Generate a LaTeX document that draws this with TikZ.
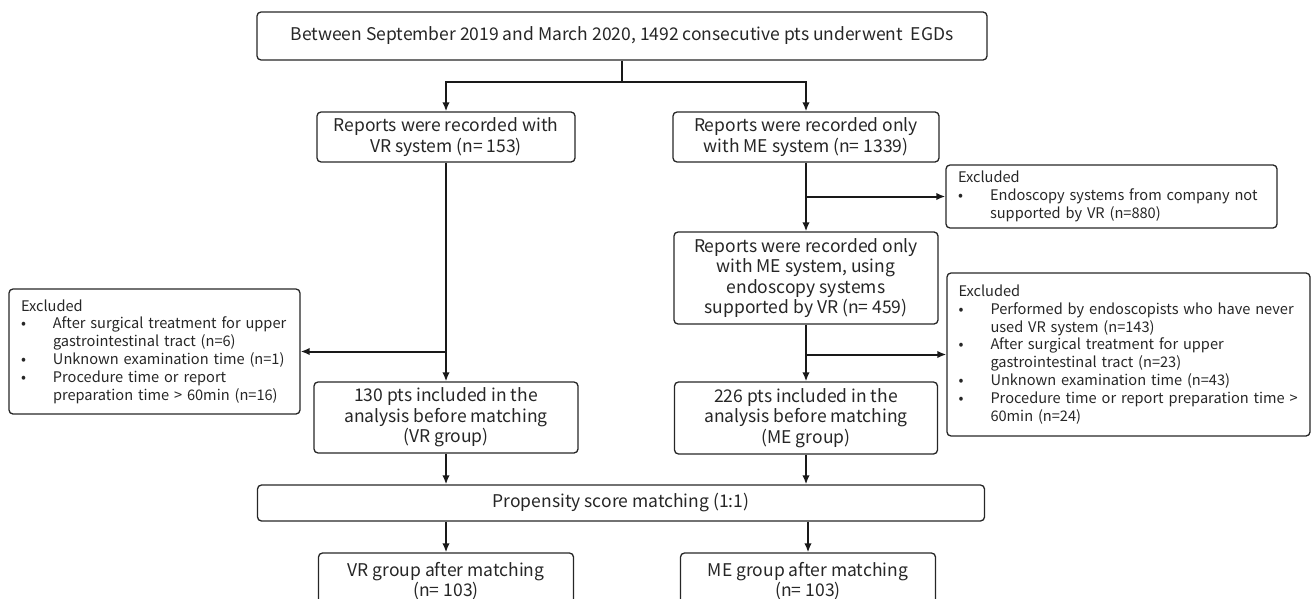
\documentclass[tikz,border=0pt]{standalone}
\usepackage{fontspec}
\setmainfont{Noto Sans CJK JP}
\usetikzlibrary{arrows.meta}
\newcommand\mainsz{\fontsize{17.5}{20.5}\selectfont}
\newcommand\topsz{\fontsize{17.5}{20.5}\selectfont}
\newcommand\exsz{\fontsize{14.6}{17.8}\selectfont}
\newcommand\bitem[1]{\makebox[32pt][l]{•}\mbox{#1}}
\newcommand\cnt[1]{\hspace*{32pt}\mbox{#1}}
\begin{document}
\begin{tikzpicture}[x=1pt,y=-1pt,
  box/.style={draw=black!85, line width=1.3pt, rounded corners=4pt, inner sep=0pt,
              align=center, font=\mainsz, text=black!85},
  exbox/.style={box, align=left, inner xsep=12pt, inner ysep=0pt, font=\exsz},
  conn/.style={line width=2pt, draw=black!90},
  arr/.style={conn, -{Latex[length=9pt,width=7.5pt]}}]
\useasboundingbox (0,0) rectangle (1311,599);
\clip (0,0) rectangle (1311,599);

\node[box, font=\topsz, minimum width=730pt, minimum height=48pt] (top) at (622,36)
  {Between September 2019 and March 2020, 1492 consecutive pts underwent\ \ EGDs};
\node[box, minimum width=258pt, minimum height=50pt] (vr) at (446,137)
  {Reports were recorded with\\VR system (n= 153)};
\node[box, minimum width=266pt, minimum height=50pt] (me) at (806,137)
  {Reports were recorded only\\with ME system (n= 1339)};
\node[exbox, text width=307pt, minimum height=63pt] (ex1) at (1111.5,196.5)
  {Excluded\\
   \bitem{Endoscopy systems from company not}\\
   \cnt{supported by VR (n=880)}};
\node[box, minimum width=264pt, minimum height=92pt] (me2) at (806,278)
  {Reports were recorded only\\with ME system, using\\endoscopy systems\\supported by VR (n= 459)};
\node[exbox, text width=267pt, minimum height=125pt] (exL) at (154.5,351.5)
  {Excluded\\
   \bitem{After surgical treatment for upper}\\
   \cnt{gastrointestinal tract (n=6)}\\
   \bitem{Unknown examination time (n=1)}\\
   \bitem{Procedure time or report}\\
   \cnt{preparation time > 60min (n=16)}};
\node[exbox, text width=340pt, inner xsep=11.5pt, minimum height=163pt] (exR) at (1128.5,354.5)
  {Excluded\\
   \bitem{Performed by endoscopists who have never}\\
   \cnt{used VR system (n=143)}\\
   \bitem{After surgical treatment for upper}\\
   \cnt{gastrointestinal tract (n=23)}\\
   \bitem{Unknown examination time (n=43)}\\
   \bitem{Procedure time or report preparation time >}\\
   \cnt{60min (n=24)}};
\node[box, minimum width=264pt, minimum height=71pt] (vr130) at (446,417.5)
  {130 pts included in the\\analysis before matching\\(VR group)};
\node[box, minimum width=263pt, minimum height=72pt] (me226) at (806,418)
  {226 pts included in the\\analysis before matching\\(ME group)};
\node[box, minimum width=727pt, minimum height=36pt] (psm) at (621,503)
  {Propensity score matching (1:1)};
\node[box, minimum width=255pt, minimum height=56pt] (vra) at (446,581)
  {VR group after matching\\(n= 103)};
\node[box, minimum width=255pt, minimum height=56pt] (mea) at (808,581)
  {ME group after matching\\(n= 103)};

% connectors
\draw[conn] (top.south) -- ++(0,21) coordinate (split);
\draw[arr] (split) -| (vr.north);
\draw[arr] (split) -| (me.north);
\draw[arr] (vr.south) -- (vr130.north);
\draw[arr] (vr.south |- exL.east) -- (exL.east);
\draw[arr] (me.south) -- (me2.north);
\draw[arr] (me.south |- ex1.west) -- (ex1.west);
\draw[arr] (me2.south) -- (me226.north);
\draw[arr] (me2.south |- exR.west) -- (exR.west);
\draw[arr] (vr130.south) -- (vr130.south |- psm.north);
\draw[arr] (me226.south) -- (me226.south |- psm.north);
\draw[arr] (vra.north |- psm.south) -- (vra.north);
\draw[arr] (mea.north |- psm.south) -- (mea.north);
\end{tikzpicture}
\end{document}
